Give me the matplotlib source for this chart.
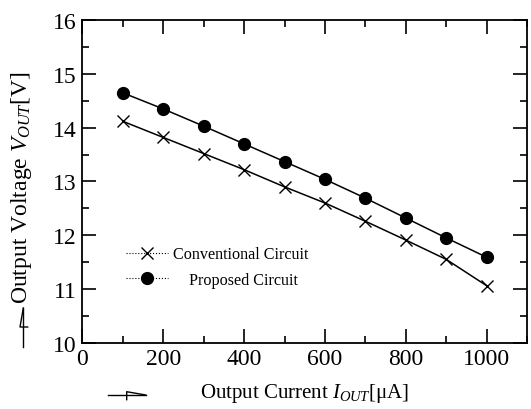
import matplotlib
matplotlib.use("Agg")
import matplotlib.pyplot as plt
from matplotlib.lines import Line2D
from matplotlib.ticker import MultipleLocator

plt.rcParams["font.family"] = ["Liberation Serif", "DejaVu Serif"]
plt.rcParams["mathtext.fontset"] = "custom"
plt.rcParams["mathtext.rm"] = "Liberation Serif"
plt.rcParams["mathtext.it"] = "Liberation Serif:italic"

# data
current_ua = [100, 200, 300, 400, 500, 600, 700, 800, 900, 1000]
conventional_v = [14.12, 13.82, 13.52, 13.22, 12.90, 12.60, 12.26, 11.91, 11.55, 11.06]
proposed_v = [14.65, 14.35, 14.03, 13.70, 13.37, 13.04, 12.69, 12.32, 11.95, 11.59]
labels = ["Conventional Circuit", "    Proposed Circuit"]

fig = plt.figure(figsize=(5.31, 4.10), dpi=100)
ax = fig.add_axes([0.155, 0.1616, 0.8378, 0.7866])

ax.plot(current_ua, conventional_v, color="black", lw=1.1, marker="x",
        ms=9, mew=1.0)
ax.plot(current_ua, proposed_v, color="black", lw=1.1, marker="o",
        ms=8.5, mfc="black", mec="black")

ax.set_xlim(0, 1100)
ax.set_ylim(10, 16)
ax.xaxis.set_major_locator(MultipleLocator(200))
ax.xaxis.set_minor_locator(MultipleLocator(100))
ax.yaxis.set_major_locator(MultipleLocator(1))
ax.yaxis.set_minor_locator(MultipleLocator(0.5))
ax.tick_params(which="both", direction="in", top=True, right=True, width=1.2,
               labelsize=17, pad=4)
ax.tick_params(which="major", length=10)
ax.tick_params(which="minor", length=5)
for sp in ax.spines.values():
    sp.set_linewidth(1.3)

ax.set_xlabel(r"Output Current $I_{OUT}$[μA]", fontsize=15)
ax.set_ylabel(r"Output Voltage $V_{OUT}$[V]", fontsize=17)
ax.xaxis.set_label_coords(0.5, -0.118)
ax.yaxis.set_label_coords(-0.108, 0.485)

handles = [
    Line2D([], [], color="black", ls=":", lw=0.8, marker="x", ms=9, mew=1.0),
    Line2D([], [], color="black", ls=":", lw=0.8, marker="o", ms=8.5),
]
ax.legend(handles, labels, loc="lower left", bbox_to_anchor=(0.08, 0.145),
          frameon=False, fontsize=11.6, handlelength=2.6, handletextpad=0.35,
          labelspacing=0.6, borderpad=0)

# little half-head arrows next to the axis titles
fig.add_artist(Line2D([23.3 / 531, 23.3 / 531], [1 - 348 / 410, 1 - 309 / 410],
                      color="black", lw=1.0))
fig.add_artist(Line2D([23.3 / 531, 20 / 531, 27.7 / 531],
                      [1 - 309 / 410, 1 - 328 / 410, 1 - 328 / 410],
                      color="black", lw=1.0))
fig.add_artist(Line2D([107.7 / 531, 145.7 / 531], [1 - 396 / 410, 1 - 396 / 410],
                      color="black", lw=1.0))
fig.add_artist(Line2D([126.7 / 531, 126.7 / 531, 145.7 / 531],
                      [1 - 400.7 / 410, 1 - 392.7 / 410, 1 - 396 / 410],
                      color="black", lw=1.0))

fig.savefig("out.png", dpi=100)
